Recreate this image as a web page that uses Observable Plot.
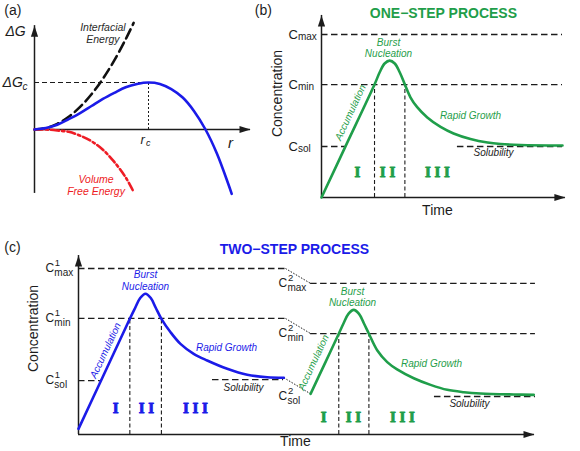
<!DOCTYPE html>
<html><head><meta charset="utf-8">
<script src="https://cdn.jsdelivr.net/npm/d3@7"></script>
<script src="https://cdn.jsdelivr.net/npm/@observablehq/plot@0.6"></script>
<style>
html,body{margin:0;padding:0;background:#fff;}
#chart{position:relative;width:580px;height:451px;overflow:hidden;background:#fff;}
#chart svg{position:absolute;left:0;top:0;}
</style></head><body><div id="chart"></div>
<script>
// ---------- Panel (a): free energy vs radius (r in units of r_c, ΔG in units of ΔG_c)
const aR      = [0,0.1,0.2,0.3,0.4,0.5,0.6,0.7,0.8,0.9,1.0,1.1,1.2,1.3,1.4,1.5,1.6,1.7,1.73];
const aTotal  = [0,0.03,0.10,0.22,0.35,0.50,0.65,0.78,0.90,0.97,1.00,0.97,0.86,0.68,0.39,0,-0.51,-1.16,-1.37];
const aPartR  = [0,0.1,0.2,0.3,0.4,0.5,0.6,0.7,0.8,0.87];
const aSurface= [0,0.03,0.12,0.27,0.48,0.75,1.08,1.47,1.92,2.27];
const aVolume = [0,0,-0.02,-0.05,-0.13,-0.25,-0.43,-0.69,-1.02,-1.33];

// ---------- Panel (b): one-step process (time, concentration)
const bTime = [0,1,2.2,2.42,2.62,2.83,3.04,3.24,3.46,3.69,3.97,4.39,4.94,5.48,6.18,6.89,7.43,8.26,10];
const bConc = [0,3.15,6.93,7.7,8.22,8.4,8.22,7.7,6.93,6.15,5.54,4.91,4.33,3.93,3.59,3.37,3.28,3.22,3.19];
const bLevels = [10, 6.93, 3.13];
const bLevelNames = ["max","min","sol"];
const bLevelEnds = [10, 10, 1.0];
const bNucleation = [2.2, 3.46];
const bSolubility = [5.64, 10, 3.13];

// ---------- Panel (c): two-step process
const cTime1 = [0,1,2.13,2.35,2.56,2.78,3.0,3.21,3.44,3.82,4.23,4.78,5.34,6.17,7.0,7.83,8.52];
const cConc1 = [0.34,3.45,6.97,7.62,8.22,8.48,8.22,7.62,6.97,6.16,5.46,4.86,4.46,3.96,3.60,3.45,3.42];
const cTime2 = [9.63,10.2,10.8,11.0,11.2,11.42,11.64,11.84,12.05,12.4,12.81,13.22,13.91,14.61,15.3,15.99,16.68,18.06,18.89];
const cConc2 = [2.45,4.21,6.07,6.7,7.27,7.51,7.27,6.7,6.07,5.06,4.36,3.92,3.39,2.99,2.69,2.55,2.47,2.41,2.39];
const cLevels1 = [10, 6.99, 3.25];
const cLevels2 = [9.10, 6.08, 2.29];
const cLevelNames = ["max","min","sol"];
const cNucleation1 = [2.13, 3.44];
const cNucleation2 = [10.8, 12.05];
const cSolubility1 = [5.56, 8.51, 3.31];
const cSolubility2 = [14.77, 18.96, 2.29];
const cStep1End = 8.59, cStep2Start = 9.63, cEnd = 18.96;

const roman = ["I", "I I", "I I I"];

const FONT = "Liberation Sans, Arial, Helvetica, sans-serif";
const SERIF = "Liberation Serif, Times New Roman, serif";
const blue = "#1b1be8", green = "#1f9e4a", red = "#ee1c25", ink = "#1c1c1c";

const zip = (xs, ys) => xs.map((x, i) => ({x, y: ys[i]}));
const head = {draw(ctx){ ctx.moveTo(0,0); ctx.lineTo(3.6,11); ctx.lineTo(-3.6,11); ctx.closePath(); }};
const base = (xd, xr, yd, yr, marks) => Plot.plot({
  width: 580, height: 451,
  x: {type: "linear", domain: xd, range: xr, axis: null},
  y: {type: "linear", domain: yd, range: yr, axis: null},
  style: {fontFamily: FONT, background: "transparent", overflow: "visible", color: ink},
  marks
});
const txt = (rows, o) => Plot.text(rows, {x: "x", y: "y", text: "t", fill: ink, ...o});
const axes = (xEnd, yEnd, yStart = 0) => [
  Plot.ruleY([{y: 0, x1: 0, x2: xEnd}], {y: "y", x1: "x1", x2: "x2", stroke: ink, strokeWidth: 1.5}),
  Plot.ruleX([{x: 0, y1: yStart, y2: yEnd}], {x: "x", y1: "y1", y2: "y2", stroke: ink, strokeWidth: 1.5}),
  Plot.dot([{x: 0, y: yEnd, a: 0}, {x: xEnd, y: 0, a: 90}], {x: "x", y: "y", rotate: "a", symbol: head, fill: ink, stroke: null})
];
const cLabel = (rows, size) => [
  txt(rows, {text: () => "C", textAnchor: "start", fontSize: size}),
  txt(rows, {text: "sub", textAnchor: "start", fontSize: 10, dx: size * 0.74, dy: 4}),
  txt(rows, {text: "sup", textAnchor: "start", fontSize: 9.5, dx: size * 0.74 + 0.5, dy: -5.5})
];
const numerals = (xs, y, color) => txt(roman.map((t, i) => ({t, x: xs[i], y})),
  {fontFamily: SERIF, fontWeight: "bold", fontSize: 15, fill: color, stroke: color, strokeWidth: 0.9});
const dash = {stroke: ink, strokeWidth: 1.3, strokeDasharray: "6.5,3.5"};
const vdash = {stroke: ink, strokeWidth: 1.1, strokeDasharray: "4,2.5"};

// ---------- (a)
const panelA = base([0,1], [34,148], [0,1], [129,82], [
  Plot.ruleY([{y: 1, x1: 0, x2: 1}], {y: "y", x1: "x1", x2: "x2", stroke: ink, strokeWidth: 1.1, strokeDasharray: "5,3"}),
  Plot.ruleX([{x: 1, y1: 0, y2: 1}], {x: "x", y1: "y1", y2: "y2", stroke: ink, strokeWidth: 1, strokeDasharray: "2,2"}),
  ...axes(1.895, 2.21, -1.36),
  Plot.line(zip(aPartR, aSurface), {x: "x", y: "y", curve: "catmull-rom", stroke: "#111", strokeWidth: 2.6, strokeDasharray: "10,5"}),
  Plot.line(zip(aPartR, aVolume), {x: "x", y: "y", curve: "catmull-rom", stroke: red, strokeWidth: 2.6, strokeDasharray: "8,3,2.5,3"}),
  Plot.line(zip(aR, aTotal), {x: "x", y: "y", curve: "catmull-rom", stroke: blue, strokeWidth: 2.6}),
  txt([{x: -0.19, y: 2.53, t: "(a)"}], {fontSize: 14}),
  txt([{x: -0.255, y: 2.09, t: "ΔG"}, {x: -0.28, y: 1.0, t: "ΔG"}], {fontSize: 14, fontStyle: "italic", textAnchor: "start"}),
  txt([{x: -0.28, y: 1.0, t: "c"}], {fontSize: 10, fontStyle: "italic", textAnchor: "start", dx: 20, dy: 4}),
  txt([{x: 0.93, y: -0.21, t: "r"}], {fontSize: 13, fontStyle: "italic", textAnchor: "start"}),
  txt([{x: 0.93, y: -0.21, t: "c"}], {fontSize: 9, fontStyle: "italic", textAnchor: "start", dx: 5.5, dy: 3.5}),
  txt([{x: 1.72, y: -0.29, t: "r"}], {fontSize: 15, fontStyle: "italic"}),
  txt([{x: 0.60, y: 2.06, t: "Interfacial\nEnergy"}], {fontSize: 10.5, fontStyle: "italic", lineHeight: 1.15, fill: "#2a2a2a"}),
  txt([{x: 0.54, y: -1.19, t: "Volume\nFree Energy"}], {fontSize: 10.5, fontStyle: "italic", lineHeight: 1.15, fill: red})
]);

// ---------- (b)
const bLev = bLevels.map((y, i) => ({y, x1: 0, x2: bLevelEnds[i], x: -1.37, sub: bLevelNames[i], sup: ""}));
const panelB = base([0,10], [321,562], [0,10], [197,34], [
  Plot.ruleY(bLev, {y: "y", x1: "x1", x2: "x2", ...dash}),
  Plot.ruleY([{y: bSolubility[2], x1: bSolubility[0], x2: bSolubility[1]}], {y: "y", x1: "x1", x2: "x2", ...dash}),
  Plot.ruleX(bNucleation.map(x => ({x, y1: 0, y2: bLevels[1]})), {x: "x", y1: "y1", y2: "y2", ...vdash}),
  ...axes(10.12, 11.17),
  Plot.line(zip(bTime, bConc), {x: "x", y: "y", curve: "catmull-rom", stroke: green, strokeWidth: 2.6}),
  txt(bLev, {text: () => "C", textAnchor: "start", fontSize: 13}),
  txt(bLev, {text: "sub", textAnchor: "start", fontSize: 10, dx: 9.5, dy: 2.5}),
  txt([{x: -2.41, y: 11.47, t: "(b)"}], {fontSize: 14}),
  txt([{x: 5.06, y: 11.29, t: "ONE−STEP PROCESS"}], {fontSize: 14, fontWeight: "bold", fill: green}),
  txt([{x: -1.83, y: 6.38, t: "Concentration"}], {fontSize: 14, rotate: -90}),
  txt([{x: 4.81, y: -0.80, t: "Time"}], {fontSize: 14}),
  txt([{x: 2.78, y: 9.17, t: "Burst\nNucleation"}], {fontSize: 10, fontStyle: "italic", lineHeight: 1.15, fill: green}),
  txt([{x: 6.18, y: 5.03, t: "Rapid Growth"}], {fontSize: 10, fontStyle: "italic", fill: green}),
  txt([{x: 1.2, y: 5.21, t: "Accumulation"}], {fontSize: 10, fontStyle: "italic", fill: green, rotate: -65}),
  txt([{x: 7.14, y: 2.76, t: "Solubility"}], {fontSize: 10, fontStyle: "italic"}),
  numerals([1.49, 2.74, 4.81], 1.53, green)
]);

// ---------- (c)
const cLev1 = cLevels1.map((y, i) => ({y, x1: 0, x2: i < 2 ? cStep1End : 0.91, x: -1.37, sub: cLevelNames[i], sup: "1"}));
const cLev2 = cLevels2.map((y, i) => ({y, x1: cStep2Start, x2: cEnd, x: 8.30, sub: cLevelNames[i], sup: "2"}));
const cDiag = [
  {x1: cStep1End, y1: cLevels1[0], x2: cStep2Start, y2: cLevels2[0]},
  {x1: cStep1End, y1: cLevels1[1], x2: cStep2Start, y2: cLevels2[1]},
  {x1: cTime1[cTime1.length - 1], y1: cConc1[cConc1.length - 1], x2: cTime2[0], y2: cConc2[0]}
];
const panelC = base([0,10], [78,319], [0,10], [434,268], [
  Plot.ruleY(cLev1, {y: "y", x1: "x1", x2: "x2", ...dash}),
  Plot.ruleY(cLev2.slice(0, 2), {y: "y", x1: "x1", x2: "x2", ...dash}),
  Plot.ruleY([cSolubility1, cSolubility2].map(s => ({x1: s[0], x2: s[1], y: s[2]})), {y: "y", x1: "x1", x2: "x2", ...dash}),
  Plot.link(cDiag, {x1: "x1", y1: "y1", x2: "x2", y2: "y2", stroke: ink, strokeWidth: 1, strokeDasharray: "1.5,1.5"}),
  Plot.ruleX(cNucleation1.map(x => ({x, y1: 0, y2: cLevels1[1]})), {x: "x", y1: "y1", y2: "y2", ...vdash}),
  Plot.ruleX(cNucleation2.map(x => ({x, y1: 0, y2: cLevels2[1]})), {x: "x", y1: "y1", y2: "y2", ...vdash}),
  ...axes(18.92, 10.78),
  Plot.line(zip(cTime1, cConc1), {x: "x", y: "y", curve: "catmull-rom", stroke: blue, strokeWidth: 2.6}),
  Plot.line(zip(cTime2, cConc2), {x: "x", y: "y", curve: "catmull-rom", stroke: green, strokeWidth: 2.6}),
  ...cLabel(cLev1, 12),
  ...cLabel(cLev2, 12),
  txt([{x: -2.74, y: 11.27, t: "(c)"}], {fontSize: 14}),
  txt([{x: 8.96, y: 11.14, t: "TWO−STEP PROCESS"}], {fontSize: 14, fontWeight: "bold", fill: blue}),
  txt([{x: -1.87, y: 6.39, t: "Concentration"}], {fontSize: 14, rotate: -90}),
  txt([{x: 9.0, y: -0.42, t: "Time"}], {fontSize: 14}),
  txt([{x: 2.78, y: 9.28, t: "Burst\nNucleation", c: blue}, {x: 11.37, y: 8.28, t: "Burst\nNucleation", c: green}], {fontSize: 10, fontStyle: "italic", lineHeight: 1.15, fill: "c"}),
  txt([{x: 6.14, y: 5.24, t: "Rapid Growth", c: blue}, {x: 14.65, y: 4.28, t: "Rapid Growth", c: green}], {fontSize: 10, fontStyle: "italic", fill: "c"}),
  txt([{x: 1.12, y: 5.06, t: "Accumulation", c: blue}, {x: 9.75, y: 4.34, t: "Accumulation", c: green}], {fontSize: 10, fontStyle: "italic", fill: "c", rotate: -65}),
  txt([{x: 6.85, y: 2.83, t: "Solubility"}, {x: 16.22, y: 1.87, t: "Solubility"}], {fontSize: 10, fontStyle: "italic"}),
  numerals([1.54, 2.82, 4.85], 1.57, blue),
  numerals([10.17, 11.41, 13.44], 1.02, green)
]);

const host = document.getElementById("chart");
for (const p of [panelA, panelB, panelC]) host.appendChild(p);
</script>
</body></html>
